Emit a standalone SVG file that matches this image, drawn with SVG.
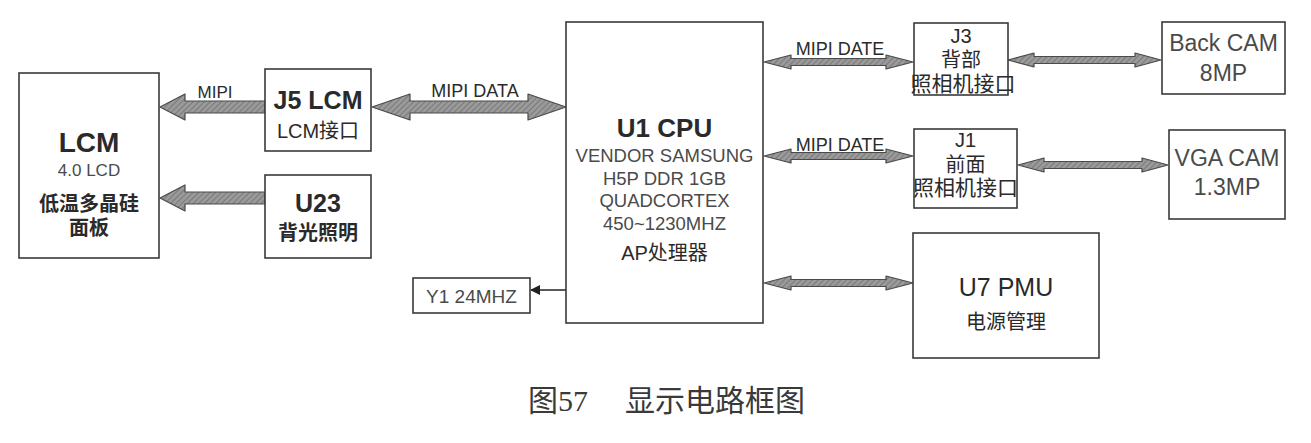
<svg xmlns="http://www.w3.org/2000/svg" width="1311" height="443" viewBox="0 0 1311 443">
<defs>
<pattern id="hatch" width="4" height="4" patternUnits="userSpaceOnUse" patternTransform="rotate(45)">
<rect width="4" height="4" fill="#9a9a9a"/>
<line x1="0" y1="0" x2="0" y2="4" stroke="#6a6a6a" stroke-width="1.4"/>
</pattern>
<marker id="tri" viewBox="0 0 10 10" refX="9" refY="5" markerWidth="10" markerHeight="10" markerUnits="userSpaceOnUse" orient="auto">
<path d="M0,0 L10,5 L0,10 Z" fill="#222"/>
</marker>
<style>
.box{fill:#fff;stroke:#3a3a3a;stroke-width:1.6}
.arr{fill:url(#hatch);stroke:#4a4a4a;stroke-width:1.2;stroke-linejoin:round}
.t{font-family:"Liberation Sans","Noto Sans CJK SC",sans-serif;fill:#2a2a2a;text-anchor:middle}
.b{font-weight:bold}
.g{fill:#4a4a4a}
.cap{font-family:"Liberation Serif","Noto Sans CJK SC",serif;fill:#3a3a3a;font-size:30px}
</style>
</defs>
<rect width="1311" height="443" fill="#fff"/>

<g id="connectors">
<!-- J5 -> LCM -->
<path class="arr" d="M160,107 L185,94 L185,101 L265,101 L265,113 L185,113 L185,120 Z"/>
<!-- U23 -> LCM -->
<path class="arr" d="M160,198 L185,185 L185,192 L265,192 L265,204 L185,204 L185,211 Z"/>
<!-- J5 <-> CPU -->
<path class="arr" d="M372,107 L410,94 L410,101 L528,101 L528,94 L566,107 L528,120 L528,113 L410,113 L410,120 Z"/>
<!-- CPU <-> J3 -->
<path class="arr" d="M764,62 L791,55 L791,58.5 L886,58.5 L886,55 L913,62 L886,69 L886,65.5 L791,65.5 L791,69 Z"/>
<!-- CPU <-> J1 -->
<path class="arr" d="M764,156 L791,149 L791,152.5 L886,152.5 L886,149 L913,156 L886,163 L886,159.5 L791,159.5 L791,163 Z"/>
<!-- J3 <-> Back CAM -->
<path class="arr" d="M1008,60 L1034,53 L1034,56.5 L1135,56.5 L1135,53 L1161,60 L1135,67 L1135,63.5 L1034,63.5 L1034,67 Z"/>
<!-- J1 <-> VGA CAM -->
<path class="arr" d="M1018,165 L1044,158 L1044,161.5 L1142,161.5 L1142,158 L1168,165 L1142,172 L1142,168.5 L1044,168.5 L1044,172 Z"/>
<!-- CPU <-> PMU -->
<path class="arr" d="M764,283 L791,276 L791,279.5 L886,279.5 L886,276 L913,283 L886,290 L886,286.5 L791,286.5 L791,290 Z"/>
<!-- CPU -> Y1 -->
<line x1="566" y1="290" x2="531" y2="290" stroke="#222" stroke-width="1.4" marker-end="url(#tri)"/>
<text class="t" x="215" y="98" font-size="17">MIPI</text>
<text class="t" x="475" y="97" font-size="18">MIPI DATA</text>
<text class="t" x="840" y="55" font-size="18">MIPI DATE</text>
<text class="t" x="840" y="151" font-size="18">MIPI DATE</text>
</g>

<g id="lcm">
<rect class="box" x="19" y="73" width="140" height="185"/>
<text class="t b" x="89" y="152" font-size="28">LCM</text>
<text class="t g" x="89" y="176" font-size="17">4.0 LCD</text>
<text class="t b" x="89" y="211" font-size="20">低温多晶硅</text>
<text class="t b" x="89" y="235" font-size="20">面板</text>
</g>

<g id="j5">
<rect class="box" x="265" y="69" width="106" height="82"/>
<text class="t b" x="318" y="109" font-size="25">J5 LCM</text>
<text class="t" x="318" y="138" font-size="20">LCM接口</text>
</g>

<g id="u23">
<rect class="box" x="265" y="175" width="106" height="83"/>
<text class="t b" x="318" y="212" font-size="25">U23</text>
<text class="t b" x="318" y="240" font-size="20">背光照明</text>
</g>

<g id="cpu">
<rect class="box" x="566" y="22" width="197" height="301"/>
<text class="t b" x="664.5" y="137" font-size="26">U1 CPU</text>
<text class="t g" x="664.5" y="162" font-size="18.5">VENDOR SAMSUNG</text>
<text class="t g" x="664.5" y="185" font-size="18.5">H5P DDR 1GB</text>
<text class="t g" x="664.5" y="207" font-size="18.5">QUADCORTEX</text>
<text class="t g" x="664.5" y="230" font-size="18.5">450~1230MHZ</text>
<text class="t" x="664.5" y="260" font-size="20">AP处理器</text>
</g>

<g id="y1">
<rect class="box" x="413" y="278" width="117" height="35"/>
<text class="t g" x="471.5" y="303" font-size="19">Y1 24MHZ</text>
</g>

<g id="j3">
<rect class="box" x="914" y="23" width="94" height="72"/>
<text class="t" x="961" y="43" font-size="20">J3</text>
<text class="t" x="961" y="67" font-size="20">背部</text>
<text class="t" x="963" y="91" font-size="21">照相机接口</text>
</g>

<g id="j1">
<rect class="box" x="914" y="129" width="103" height="79"/>
<text class="t" x="965.5" y="147" font-size="20">J1</text>
<text class="t" x="965.5" y="172" font-size="20">前面</text>
<text class="t" x="965.5" y="195" font-size="21">照相机接口</text>
</g>

<g id="backcam">
<rect class="box" x="1162" y="22" width="123" height="72"/>
<text class="t g" x="1223.5" y="51" font-size="23">Back CAM</text>
<text class="t g" x="1223.5" y="81" font-size="23">8MP</text>
</g>

<g id="vgacam">
<rect class="box" x="1169" y="130" width="116" height="89"/>
<text class="t g" x="1227" y="166" font-size="23">VGA CAM</text>
<text class="t g" x="1227" y="195" font-size="23">1.3MP</text>
</g>

<g id="pmu">
<rect class="box" x="913" y="233" width="186" height="125"/>
<text class="t" x="1006" y="296" font-size="25">U7 PMU</text>
<text class="t" x="1006" y="329" font-size="20">电源管理</text>
</g>

<g id="caption">
<text class="cap" x="528" y="411">图57</text>
<text class="cap" x="625" y="411">显示电路框图</text>
</g>
</svg>
